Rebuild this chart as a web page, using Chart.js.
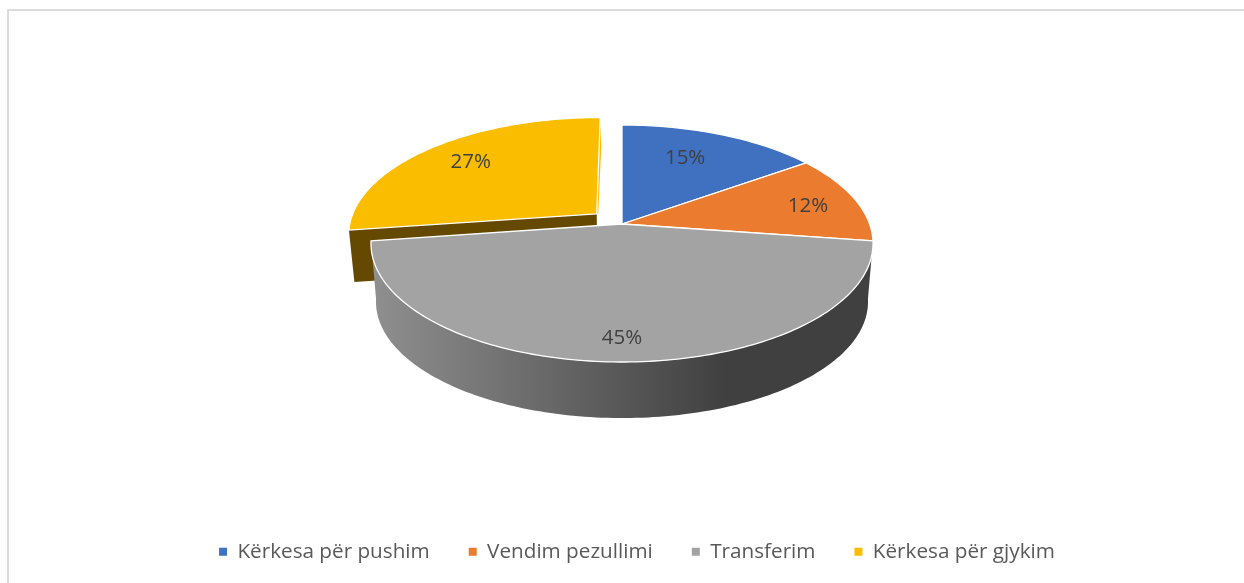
<!DOCTYPE html>
<html>
<head>
<meta charset="utf-8">
<script src="https://cdn.jsdelivr.net/npm/chart.js@4"></script>
<style>
  body { margin: 0; background: #fff; overflow: hidden; }
  #frame { position: absolute; left: 7px; top: 9px; right: 0; bottom: 0; border-left: 2px solid #dcdcdc; border-top: 2px solid #dcdcdc; }
  #myChart { position: absolute; left: 0; top: 0; }
</style>
</head>
<body>
<div id="frame"></div>
<canvas id="myChart" width="1244" height="583"></canvas>
<script>
const categories = ['Kërkesa për pushim', 'Vendim pezullimi', 'Transferim', 'Kërkesa për gjykim'];
const shares = [15, 12, 45, 27];
const colors = ['#4070c0', '#eb7c2f', '#a3a3a3', '#fbbd00'];

// perspective of the tilted disc, fitted to the picture
const view = { cx: 622, cy: 224, a: 247.6, b: 115.3, k: 0.1646, depth: 58.8, shrink: 0.98 };
// how far each slice is pulled out, in disc radii
const pullOut = [0, 0, 0, 0.137];
// where the percent text sits inside each slice
const labelRadius = [0.692, 0.787, 0.85, 0.755];
const labelAlong = [0.44, 0.545, 0.5, 0.505];

function project(u, v) {
  const w = 1 - view.k * v;
  return { x: view.cx + view.a * u / w, y: view.cy + view.b * v / w };
}

// point of the disc at angle and radius r, for slice i
function discPoint(i, arc, angle, r) {
  const mid = (arc.startAngle + arc.endAngle) / 2;
  const u = pullOut[i] * Math.cos(mid) + r * Math.cos(angle);
  const v = pullOut[i] * Math.sin(mid) + r * Math.sin(angle);
  return project(u, v);
}

function arcPoints(i, arc) {
  const pts = [];
  const steps = Math.ceil((arc.endAngle - arc.startAngle) / 0.02);
  for (let s = 0; s <= steps; s++) {
    pts.push(discPoint(i, arc, arc.startAngle + (arc.endAngle - arc.startAngle) * s / steps, 1));
  }
  return pts;
}

function lowered(p, depth) {
  return { x: view.cx + (p.x - view.cx) * view.shrink, y: view.cy + (p.y - view.cy) * view.shrink + depth };
}

function fillPath(ctx, pts, fill, stroke) {
  ctx.beginPath();
  pts.forEach((p, n) => n ? ctx.lineTo(p.x, p.y) : ctx.moveTo(p.x, p.y));
  ctx.closePath();
  ctx.fillStyle = fill;
  ctx.fill();
  if (stroke) {
    ctx.strokeStyle = stroke;
    ctx.lineWidth = 1.3;
    ctx.stroke();
  }
}

const tiltedPie = {
  id: 'tiltedPie',
  beforeDatasetDraw(chart, args) {
    const ctx = chart.ctx;
    const arcs = args.meta.data;
    const top = i => [discPoint(i, arcs[i], 0, 0)].concat(arcPoints(i, arcs[i]));

    ctx.save();
    // cut faces of the pulled out slice
    const y = top(3);
    const y0 = y[0];
    const y1 = y[1];
    const y2 = y[y.length - 1];
    fillPath(ctx, [y0, y1, lowered(y1, 52), lowered(y0, 52)], '#664900');
    fillPath(ctx, [y0, y2, { x: y2.x + 1, y: y2.y + 30 }, { x: y0.x + 1.5, y: y0.y }], colors[3]);
    fillPath(ctx, y, colors[3], '#fff');

    // outer wall of the big slice
    const wallTop = arcPoints(2, arcs[2]);
    const wall = wallTop.concat(wallTop.slice().reverse().map(p => lowered(p, view.depth)));
    const grad = ctx.createLinearGradient(373, 0, 870, 0);
    grad.addColorStop(0, '#8f8f8f');
    grad.addColorStop(0.71, '#404040');
    grad.addColorStop(1, '#404040');
    fillPath(ctx, wall, grad);

    [0, 1, 2].forEach(i => fillPath(ctx, top(i), colors[i], '#fff'));

    ctx.font = '20.5px "Open Sans"';
    ctx.fillStyle = '#404040';
    ctx.textAlign = 'center';
    ctx.textBaseline = 'middle';
    arcs.forEach((arc, i) => {
      const angle = arc.startAngle + (arc.endAngle - arc.startAngle) * labelAlong[i];
      const p = discPoint(i, arc, angle, labelRadius[i]);
      ctx.fillText(shares[i] + '%', p.x, p.y);
    });
    ctx.restore();
    return false;
  }
};

const ctx = document.getElementById('myChart').getContext('2d');
const myChart = new Chart(ctx, {
  type: 'pie',
  data: {
    labels: categories,
    datasets: [{
      data: shares,
      backgroundColor: colors,
      borderWidth: 0
    }]
  },
  options: {
    responsive: false,
    animation: false,
    layout: { padding: { left: 30, bottom: 11 } },
    plugins: {
      tooltip: { enabled: false },
      legend: {
        position: 'bottom',
        labels: {
          boxWidth: 8,
          boxHeight: 8,
          padding: 39,
          color: '#595959',
          font: { family: '"Open Sans"', size: 20.7 }
        }
      }
    }
  },
  plugins: [tiltedPie]
});
</script>
</body>
</html>
